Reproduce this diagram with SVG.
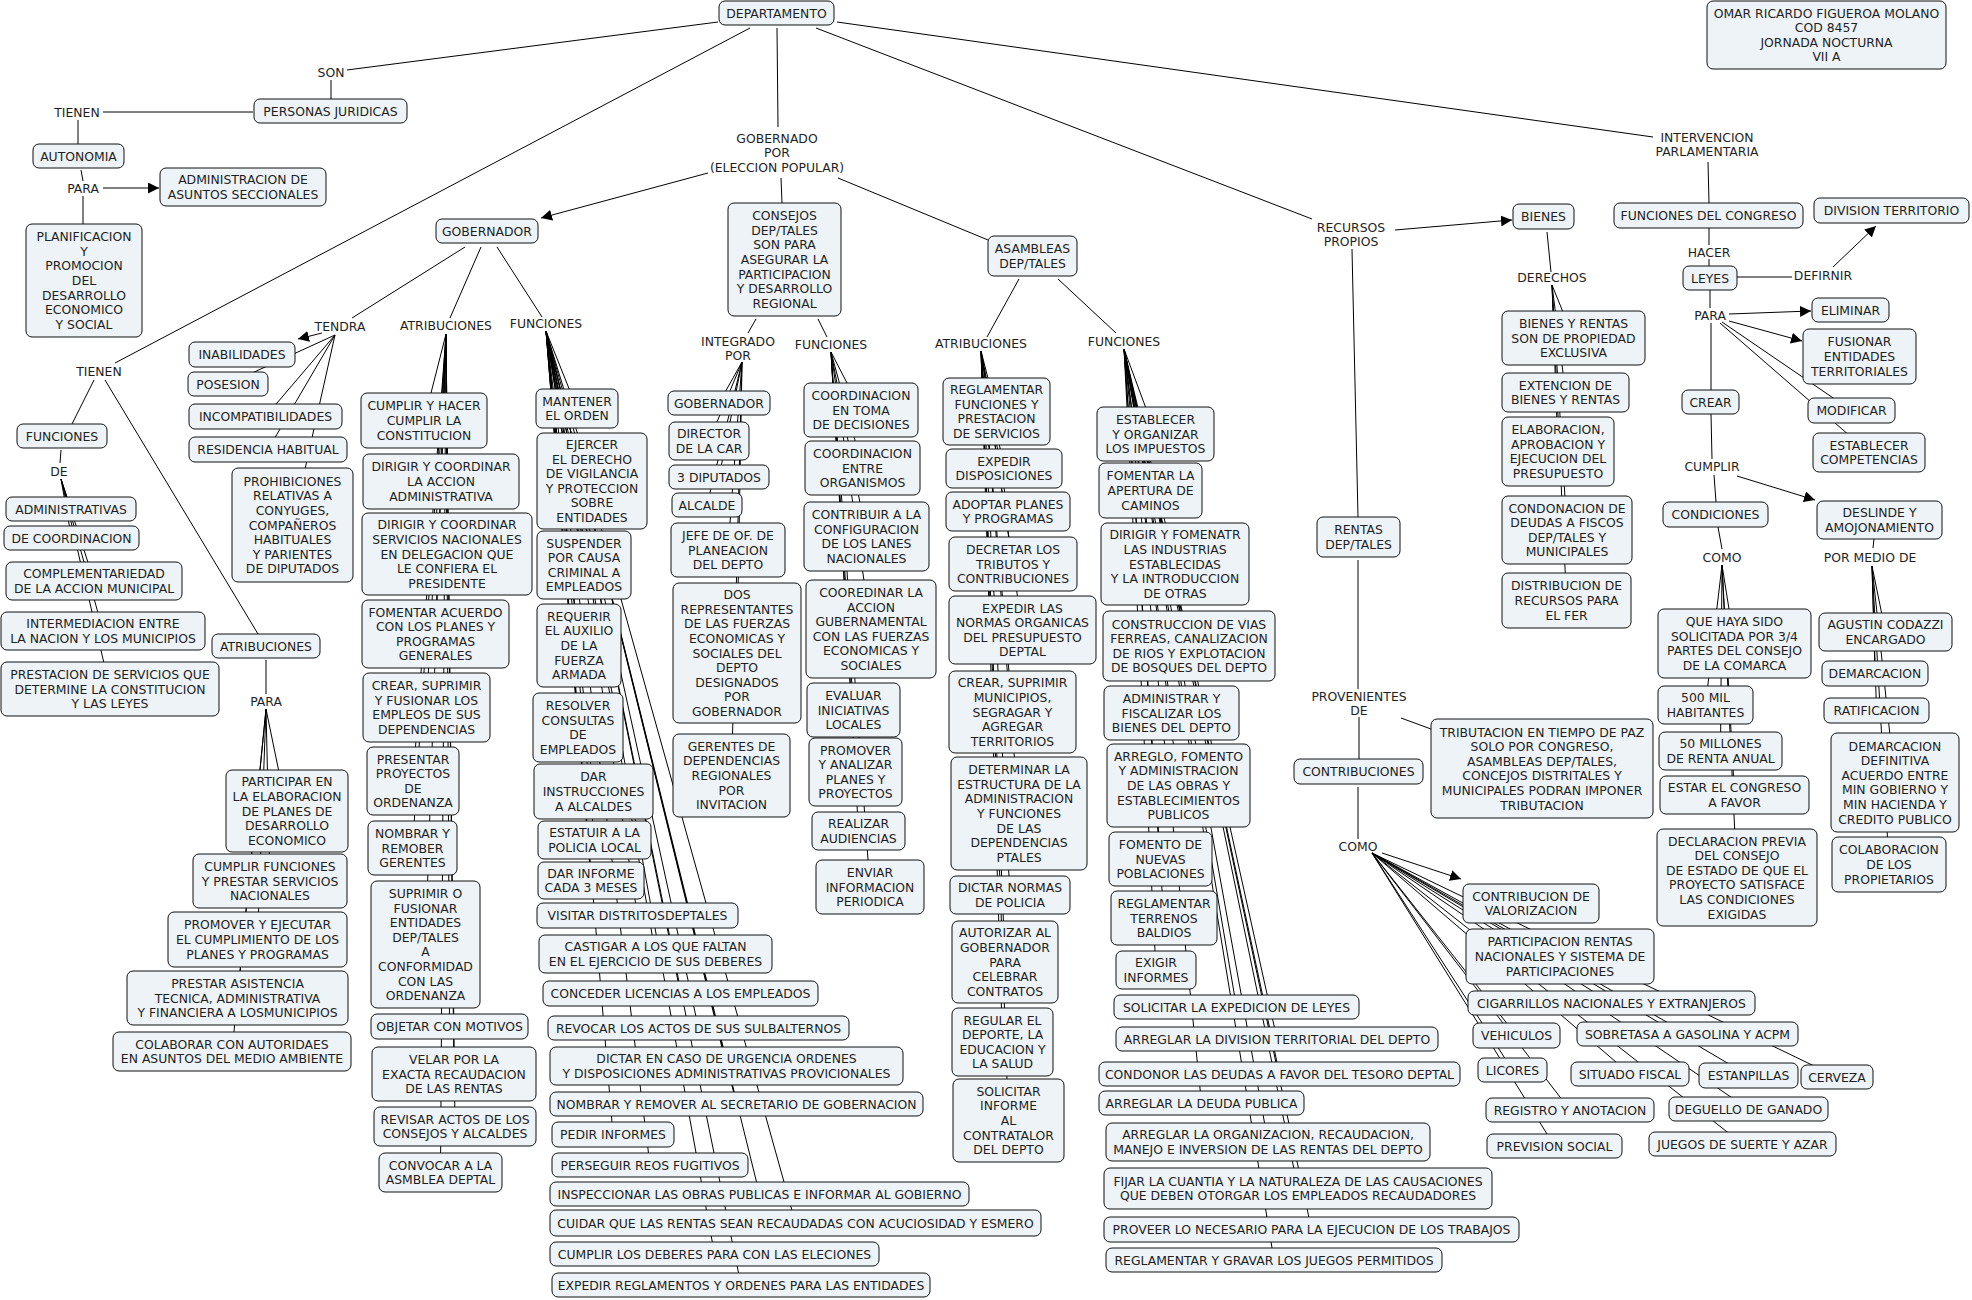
<svg xmlns="http://www.w3.org/2000/svg" width="1972" height="1300" viewBox="0 0 1972 1300">
<defs>
<marker id="ah" markerWidth="11" markerHeight="11" refX="11" refY="5.5" orient="auto" markerUnits="userSpaceOnUse"><path d="M0,0 L11,5.5 L0,11 z" fill="#000"/></marker>
<style>
.n rect{fill:#edf3f6;stroke:#111;stroke-width:1}
text{font-family:'DejaVu Sans',Verdana,sans-serif;font-size:12.4px;fill:#1e1e1e;text-anchor:middle}
#connectors line{stroke:#000;stroke-width:1}
</style>
</defs>
<rect width="1972" height="1300" fill="#fff"/>
<g id="connectors">
<line x1="718" y1="22" x2="347" y2="70"/>
<line x1="331" y1="80" x2="331" y2="99"/>
<line x1="253" y1="112" x2="103" y2="112"/>
<line x1="78" y1="120" x2="78" y2="144"/>
<line x1="81" y1="170" x2="83" y2="181"/>
<line x1="103" y1="188" x2="159" y2="188" marker-end="url(#ah)"/>
<line x1="83" y1="196" x2="83" y2="224"/>
<line x1="750" y1="28" x2="115" y2="363"/>
<line x1="94" y1="380" x2="72" y2="424"/>
<line x1="105" y1="380" x2="258" y2="634"/>
<line x1="61" y1="450" x2="60" y2="463"/>
<line x1="61" y1="479" x2="71" y2="509"/>
<line x1="61" y1="479" x2="71.5" y2="538"/>
<line x1="61" y1="479" x2="94" y2="581"/>
<line x1="61" y1="479" x2="103" y2="631"/>
<line x1="61" y1="479" x2="110" y2="689"/>
<line x1="266" y1="660" x2="266" y2="694"/>
<line x1="266" y1="709" x2="287" y2="811"/>
<line x1="266" y1="709" x2="270" y2="881"/>
<line x1="266" y1="709" x2="257.5" y2="939.5"/>
<line x1="266" y1="709" x2="237.5" y2="998"/>
<line x1="266" y1="709" x2="232" y2="1051.5"/>
<line x1="777" y1="28" x2="778" y2="127"/>
<line x1="708" y1="173" x2="541" y2="218" marker-end="url(#ah)"/>
<line x1="781" y1="178" x2="782" y2="203"/>
<line x1="838" y1="178" x2="988" y2="240"/>
<line x1="816" y1="28" x2="1312" y2="219"/>
<line x1="837" y1="22" x2="1653" y2="137"/>
<line x1="465" y1="247" x2="352" y2="318"/>
<line x1="481" y1="247" x2="450" y2="318"/>
<line x1="497" y1="247" x2="542" y2="317"/>
<line x1="322" y1="333" x2="298" y2="339" marker-end="url(#ah)"/>
<line x1="335" y1="335" x2="228" y2="384"/>
<line x1="335" y1="335" x2="265.5" y2="416.5"/>
<line x1="335" y1="335" x2="268" y2="449.5"/>
<line x1="335" y1="335" x2="292.5" y2="525"/>
<line x1="446" y1="334" x2="424" y2="420.5"/>
<line x1="446" y1="334" x2="441" y2="481.5"/>
<line x1="446" y1="334" x2="447" y2="554"/>
<line x1="446" y1="334" x2="435.5" y2="634"/>
<line x1="446" y1="334" x2="426.5" y2="707.5"/>
<line x1="446" y1="334" x2="413" y2="781"/>
<line x1="446" y1="334" x2="412.5" y2="848"/>
<line x1="446" y1="334" x2="425.5" y2="944.5"/>
<line x1="446" y1="334" x2="449.5" y2="1026.5"/>
<line x1="446" y1="334" x2="454" y2="1074"/>
<line x1="446" y1="334" x2="455" y2="1126.5"/>
<line x1="446" y1="334" x2="440.5" y2="1172.5"/>
<line x1="546" y1="331" x2="577" y2="408.5"/>
<line x1="546" y1="331" x2="592" y2="481"/>
<line x1="546" y1="331" x2="584" y2="565"/>
<line x1="546" y1="331" x2="579" y2="645.5"/>
<line x1="546" y1="331" x2="578" y2="727.5"/>
<line x1="546" y1="331" x2="593.5" y2="791.5"/>
<line x1="546" y1="331" x2="594.5" y2="840"/>
<line x1="546" y1="331" x2="591" y2="880.5"/>
<line x1="546" y1="331" x2="637.5" y2="915.5"/>
<line x1="546" y1="331" x2="655.5" y2="954"/>
<line x1="546" y1="331" x2="680.5" y2="993.5"/>
<line x1="546" y1="331" x2="698.5" y2="1028"/>
<line x1="546" y1="331" x2="726.5" y2="1066"/>
<line x1="546" y1="331" x2="736.5" y2="1104"/>
<line x1="546" y1="331" x2="613" y2="1134.5"/>
<line x1="546" y1="331" x2="650" y2="1165"/>
<line x1="546" y1="331" x2="759.5" y2="1194"/>
<line x1="546" y1="331" x2="795.5" y2="1223"/>
<line x1="546" y1="331" x2="714.5" y2="1254"/>
<line x1="546" y1="331" x2="741" y2="1285"/>
<line x1="756" y1="319" x2="748" y2="333"/>
<line x1="818" y1="319" x2="827" y2="337"/>
<line x1="742" y1="362" x2="719" y2="403"/>
<line x1="742" y1="362" x2="709" y2="441"/>
<line x1="742" y1="362" x2="719" y2="477"/>
<line x1="742" y1="362" x2="707" y2="505"/>
<line x1="742" y1="362" x2="728" y2="550"/>
<line x1="742" y1="362" x2="737" y2="653"/>
<line x1="742" y1="362" x2="731.5" y2="775.5"/>
<line x1="831" y1="352" x2="861" y2="410"/>
<line x1="831" y1="352" x2="862.5" y2="468"/>
<line x1="831" y1="352" x2="866.5" y2="536.5"/>
<line x1="831" y1="352" x2="871" y2="629"/>
<line x1="831" y1="352" x2="853.5" y2="710"/>
<line x1="831" y1="352" x2="855.5" y2="772"/>
<line x1="831" y1="352" x2="858.5" y2="831"/>
<line x1="831" y1="352" x2="870" y2="887"/>
<line x1="1019" y1="279" x2="987" y2="337"/>
<line x1="1058" y1="279" x2="1116" y2="333"/>
<line x1="981" y1="351" x2="996.5" y2="411.5"/>
<line x1="981" y1="351" x2="1004" y2="468.5"/>
<line x1="981" y1="351" x2="1008" y2="511.5"/>
<line x1="981" y1="351" x2="1013" y2="564"/>
<line x1="981" y1="351" x2="1022.5" y2="630"/>
<line x1="981" y1="351" x2="1012.5" y2="712"/>
<line x1="981" y1="351" x2="1019" y2="813.5"/>
<line x1="981" y1="351" x2="1010" y2="895"/>
<line x1="981" y1="351" x2="1005" y2="962"/>
<line x1="981" y1="351" x2="1002.5" y2="1042"/>
<line x1="981" y1="351" x2="1008.5" y2="1120.5"/>
<line x1="1124" y1="349" x2="1155.5" y2="434"/>
<line x1="1124" y1="349" x2="1150.5" y2="490.5"/>
<line x1="1124" y1="349" x2="1175" y2="564"/>
<line x1="1124" y1="349" x2="1189" y2="646"/>
<line x1="1124" y1="349" x2="1171.5" y2="713"/>
<line x1="1124" y1="349" x2="1178.5" y2="785.5"/>
<line x1="1124" y1="349" x2="1160.5" y2="859"/>
<line x1="1124" y1="349" x2="1164" y2="918"/>
<line x1="1124" y1="349" x2="1156" y2="970"/>
<line x1="1124" y1="349" x2="1236.5" y2="1007"/>
<line x1="1124" y1="349" x2="1277" y2="1039"/>
<line x1="1124" y1="349" x2="1279.5" y2="1074"/>
<line x1="1124" y1="349" x2="1201.5" y2="1103"/>
<line x1="1124" y1="349" x2="1268" y2="1142"/>
<line x1="1124" y1="349" x2="1298" y2="1188.5"/>
<line x1="1124" y1="349" x2="1311.5" y2="1229.5"/>
<line x1="1124" y1="349" x2="1274" y2="1260"/>
<line x1="1395" y1="230" x2="1512" y2="220" marker-end="url(#ah)"/>
<line x1="1352" y1="249" x2="1358" y2="517"/>
<line x1="1547" y1="232" x2="1551" y2="272"/>
<line x1="1552" y1="285" x2="1573.5" y2="338"/>
<line x1="1552" y1="285" x2="1565.5" y2="392.5"/>
<line x1="1552" y1="285" x2="1558" y2="451.5"/>
<line x1="1552" y1="285" x2="1567" y2="530"/>
<line x1="1552" y1="285" x2="1566.5" y2="600.5"/>
<line x1="1358" y1="560" x2="1358" y2="689"/>
<line x1="1359" y1="717" x2="1359" y2="759"/>
<line x1="1401" y1="718" x2="1431" y2="729"/>
<line x1="1358" y1="787" x2="1358" y2="839"/>
<line x1="1382" y1="853" x2="1461" y2="879" marker-end="url(#ah)"/>
<line x1="1372" y1="853" x2="1560" y2="956.5"/>
<line x1="1372" y1="853" x2="1611.5" y2="1003"/>
<line x1="1372" y1="853" x2="1516.5" y2="1035.5"/>
<line x1="1372" y1="853" x2="1687.5" y2="1034"/>
<line x1="1372" y1="853" x2="1512.5" y2="1070"/>
<line x1="1372" y1="853" x2="1630" y2="1074"/>
<line x1="1372" y1="853" x2="1748.5" y2="1075.5"/>
<line x1="1372" y1="853" x2="1837" y2="1077"/>
<line x1="1372" y1="853" x2="1570" y2="1110"/>
<line x1="1372" y1="853" x2="1748.5" y2="1109"/>
<line x1="1372" y1="853" x2="1554.5" y2="1146"/>
<line x1="1372" y1="853" x2="1742.5" y2="1144"/>
<line x1="1708" y1="162" x2="1709" y2="203"/>
<line x1="1709" y1="228" x2="1709" y2="245"/>
<line x1="1709" y1="259" x2="1709" y2="266"/>
<line x1="1737" y1="277" x2="1792" y2="277"/>
<line x1="1833" y1="267" x2="1876" y2="226" marker-end="url(#ah)"/>
<line x1="1710" y1="290" x2="1710" y2="308"/>
<line x1="1729" y1="314" x2="1811" y2="311" marker-end="url(#ah)"/>
<line x1="1729" y1="321" x2="1802" y2="341" marker-end="url(#ah)"/>
<line x1="1722" y1="322" x2="1851.5" y2="410.5"/>
<line x1="1720" y1="323" x2="1869" y2="452.5"/>
<line x1="1711" y1="323" x2="1711" y2="390"/>
<line x1="1711" y1="414" x2="1712" y2="459"/>
<line x1="1737" y1="476" x2="1815" y2="500" marker-end="url(#ah)"/>
<line x1="1714" y1="475" x2="1716" y2="502"/>
<line x1="1718" y1="527" x2="1722" y2="549"/>
<line x1="1722" y1="565" x2="1734.5" y2="643.5"/>
<line x1="1722" y1="565" x2="1705.5" y2="705"/>
<line x1="1722" y1="565" x2="1720.5" y2="751"/>
<line x1="1722" y1="565" x2="1734.5" y2="795"/>
<line x1="1722" y1="565" x2="1737" y2="877.5"/>
<line x1="1874" y1="539" x2="1873" y2="548"/>
<line x1="1872" y1="566" x2="1885.5" y2="632"/>
<line x1="1872" y1="566" x2="1875" y2="673.5"/>
<line x1="1872" y1="566" x2="1876.5" y2="710.5"/>
<line x1="1872" y1="566" x2="1895" y2="782.5"/>
<line x1="1872" y1="566" x2="1889" y2="864.5"/>
</g>
<g id="lp-son"><text x="331" y="76.5">SON</text></g>
<g id="lp-tienen1"><text x="77" y="116.5">TIENEN</text></g>
<g id="lp-para1"><text x="83" y="192.5">PARA</text></g>
<g id="lp-tienen2"><text x="99" y="375.5">TIENEN</text></g>
<g id="lp-de"><text x="59" y="475.5">DE</text></g>
<g id="lp-para2"><text x="266" y="705.5">PARA</text></g>
<g id="lp-tendra"><text x="340" y="330.5">TENDRA</text></g>
<g id="lp-atrib-gob"><text x="446" y="329.5">ATRIBUCIONES</text></g>
<g id="lp-func-gob"><text x="546" y="327.5">FUNCIONES</text></g>
<g id="lp-gobernado"><text x="777" y="142.5"><tspan x="777">GOBERNADO</tspan><tspan x="777" dy="14.7">POR</tspan><tspan x="777" dy="14.7">(ELECCION POPULAR)</tspan></text></g>
<g id="lp-integrado"><text x="738" y="345.5"><tspan x="738">INTEGRADO</tspan><tspan x="738" dy="14.6">POR</tspan></text></g>
<g id="lp-func-consejos"><text x="831" y="348.5">FUNCIONES</text></g>
<g id="lp-atrib-asamb"><text x="981" y="347.5">ATRIBUCIONES</text></g>
<g id="lp-func-asamb"><text x="1124" y="345.5">FUNCIONES</text></g>
<g id="lp-recursos"><text x="1351" y="231.5"><tspan x="1351">RECURSOS</tspan><tspan x="1351" dy="14.6">PROPIOS</tspan></text></g>
<g id="lp-intervencion"><text x="1707" y="141.5"><tspan x="1707">INTERVENCION</tspan><tspan x="1707" dy="14.6">PARLAMENTARIA</tspan></text></g>
<g id="lp-derechos"><text x="1552" y="281.5">DERECHOS</text></g>
<g id="lp-hacer"><text x="1709" y="256.5">HACER</text></g>
<g id="lp-defirnir"><text x="1823" y="279.5">DEFIRNIR</text></g>
<g id="lp-para3"><text x="1710" y="319.5">PARA</text></g>
<g id="lp-cumplir"><text x="1712" y="470.5">CUMPLIR</text></g>
<g id="lp-como1"><text x="1722" y="561.5">COMO</text></g>
<g id="lp-pormedio"><text x="1870" y="561.5">POR MEDIO DE</text></g>
<g id="lp-provenientes"><text x="1359" y="700.5"><tspan x="1359">PROVENIENTES</tspan><tspan x="1359" dy="14.6">DE</tspan></text></g>
<g id="lp-como2"><text x="1358" y="850.5">COMO</text></g>

<g id="n1" class="n"><rect x="719" y="1" width="115" height="24" rx="6"/><text x="776.5" y="17.5">DEPARTAMENTO</text></g>
<g id="n2" class="n"><rect x="1707" y="1" width="239" height="68" rx="6"/><text x="1826.5" y="17.6"><tspan x="1826.5">OMAR RICARDO FIGUEROA MOLANO</tspan><tspan x="1826.5" dy="14.6">COD 8457</tspan><tspan x="1826.5" dy="14.6">JORNADA NOCTURNA</tspan><tspan x="1826.5" dy="14.6">VII A</tspan></text></g>
<g id="n3" class="n"><rect x="254" y="99" width="153" height="24" rx="6"/><text x="330.5" y="115.5">PERSONAS JURIDICAS</text></g>
<g id="n4" class="n"><rect x="33" y="144" width="91" height="24" rx="6"/><text x="78.5" y="160.5">AUTONOMIA</text></g>
<g id="n5" class="n"><rect x="160" y="168" width="166" height="38" rx="6"/><text x="243" y="184.2"><tspan x="243">ADMINISTRACION DE</tspan><tspan x="243" dy="14.6">ASUNTOS SECCIONALES</tspan></text></g>
<g id="n6" class="n"><rect x="26" y="224" width="116" height="113" rx="6"/><text x="84" y="241.2"><tspan x="84">PLANIFICACION</tspan><tspan x="84" dy="14.6">Y</tspan><tspan x="84" dy="14.6">PROMOCION</tspan><tspan x="84" dy="14.6">DEL</tspan><tspan x="84" dy="14.6">DESARROLLO</tspan><tspan x="84" dy="14.6">ECONOMICO</tspan><tspan x="84" dy="14.6">Y SOCIAL</tspan></text></g>
<g id="n7" class="n"><rect x="436" y="219" width="102" height="24" rx="6"/><text x="487" y="235.5">GOBERNADOR</text></g>
<g id="n8" class="n"><rect x="728" y="203" width="113" height="113" rx="6"/><text x="784.5" y="220.2"><tspan x="784.5">CONSEJOS</tspan><tspan x="784.5" dy="14.6">DEP/TALES</tspan><tspan x="784.5" dy="14.6">SON PARA</tspan><tspan x="784.5" dy="14.6">ASEGURAR LA</tspan><tspan x="784.5" dy="14.6">PARTICIPACION</tspan><tspan x="784.5" dy="14.6">Y DESARROLLO</tspan><tspan x="784.5" dy="14.6">REGIONAL</tspan></text></g>
<g id="n9" class="n"><rect x="988" y="236" width="89" height="40" rx="6"/><text x="1032.5" y="253.2"><tspan x="1032.5">ASAMBLEAS</tspan><tspan x="1032.5" dy="14.6">DEP/TALES</tspan></text></g>
<g id="n10" class="n"><rect x="1513" y="204" width="61" height="25" rx="6"/><text x="1543.5" y="221">BIENES</text></g>
<g id="n11" class="n"><rect x="1614" y="203" width="189" height="25" rx="6"/><text x="1708.5" y="220">FUNCIONES DEL CONGRESO</text></g>
<g id="n12" class="n"><rect x="1814" y="198" width="155" height="25" rx="6"/><text x="1891.5" y="215">DIVISION TERRITORIO</text></g>
<g id="n13" class="n"><rect x="1683" y="266" width="54" height="24" rx="6"/><text x="1710" y="282.5">LEYES</text></g>
<g id="n14" class="n"><rect x="1812" y="298" width="77" height="24" rx="6"/><text x="1850.5" y="314.5">ELIMINAR</text></g>
<g id="n15" class="n"><rect x="1803" y="329" width="113" height="55" rx="6"/><text x="1859.5" y="346.4"><tspan x="1859.5">FUSIONAR</tspan><tspan x="1859.5" dy="14.6">ENTIDADES</tspan><tspan x="1859.5" dy="14.6">TERRITORIALES</tspan></text></g>
<g id="n16" class="n"><rect x="1808" y="398" width="87" height="25" rx="6"/><text x="1851.5" y="415">MODIFICAR</text></g>
<g id="n17" class="n"><rect x="1682" y="390" width="57" height="24" rx="6"/><text x="1710.5" y="406.5">CREAR</text></g>
<g id="n18" class="n"><rect x="1813" y="433" width="112" height="39" rx="6"/><text x="1869" y="449.7"><tspan x="1869">ESTABLECER</tspan><tspan x="1869" dy="14.6">COMPETENCIAS</tspan></text></g>
<g id="n19" class="n"><rect x="1663" y="502" width="105" height="25" rx="6"/><text x="1715.5" y="519">CONDICIONES</text></g>
<g id="n20" class="n"><rect x="1817" y="501" width="125" height="38" rx="6"/><text x="1879.5" y="517.2"><tspan x="1879.5">DESLINDE Y</tspan><tspan x="1879.5" dy="14.6">AMOJONAMIENTO</tspan></text></g>
<g id="n21" class="n"><rect x="1658" y="609" width="153" height="69" rx="6"/><text x="1734.5" y="626.1"><tspan x="1734.5">QUE HAYA SIDO</tspan><tspan x="1734.5" dy="14.6">SOLICITADA POR 3/4</tspan><tspan x="1734.5" dy="14.6">PARTES DEL CONSEJO</tspan><tspan x="1734.5" dy="14.6">DE LA COMARCA</tspan></text></g>
<g id="n22" class="n"><rect x="1658" y="686" width="95" height="38" rx="6"/><text x="1705.5" y="702.2"><tspan x="1705.5">500 MIL</tspan><tspan x="1705.5" dy="14.6">HABITANTES</tspan></text></g>
<g id="n23" class="n"><rect x="1659" y="732" width="123" height="38" rx="6"/><text x="1720.5" y="748.2"><tspan x="1720.5">50 MILLONES</tspan><tspan x="1720.5" dy="14.6">DE RENTA ANUAL</tspan></text></g>
<g id="n24" class="n"><rect x="1660" y="776" width="149" height="38" rx="6"/><text x="1734.5" y="792.2"><tspan x="1734.5">ESTAR EL CONGRESO</tspan><tspan x="1734.5" dy="14.6">A FAVOR</tspan></text></g>
<g id="n25" class="n"><rect x="1657" y="829" width="160" height="97" rx="6"/><text x="1737" y="845.5"><tspan x="1737">DECLARACION PREVIA</tspan><tspan x="1737" dy="14.6">DEL CONSEJO</tspan><tspan x="1737" dy="14.6">DE ESTADO DE QUE EL</tspan><tspan x="1737" dy="14.6">PROYECTO SATISFACE</tspan><tspan x="1737" dy="14.6">LAS CONDICIONES</tspan><tspan x="1737" dy="14.6">EXIGIDAS</tspan></text></g>
<g id="n26" class="n"><rect x="1819" y="613" width="133" height="38" rx="6"/><text x="1885.5" y="629.2"><tspan x="1885.5">AGUSTIN CODAZZI</tspan><tspan x="1885.5" dy="14.6">ENCARGADO</tspan></text></g>
<g id="n27" class="n"><rect x="1822" y="661" width="106" height="25" rx="6"/><text x="1875" y="678">DEMARCACION</text></g>
<g id="n28" class="n"><rect x="1824" y="698" width="105" height="25" rx="6"/><text x="1876.5" y="715">RATIFICACION</text></g>
<g id="n29" class="n"><rect x="1831" y="733" width="128" height="99" rx="6"/><text x="1895" y="750.5"><tspan x="1895">DEMARCACION</tspan><tspan x="1895" dy="14.6">DEFINITIVA</tspan><tspan x="1895" dy="14.6">ACUERDO ENTRE</tspan><tspan x="1895" dy="14.6">MIN GOBIERNO Y</tspan><tspan x="1895" dy="14.6">MIN HACIENDA Y</tspan><tspan x="1895" dy="14.6">CREDITO PUBLICO</tspan></text></g>
<g id="n30" class="n"><rect x="1832" y="837" width="114" height="55" rx="6"/><text x="1889" y="854.4"><tspan x="1889">COLABORACION</tspan><tspan x="1889" dy="14.6">DE LOS</tspan><tspan x="1889" dy="14.6">PROPIETARIOS</tspan></text></g>
<g id="n31" class="n"><rect x="1502" y="311" width="143" height="54" rx="6"/><text x="1573.5" y="327.9"><tspan x="1573.5">BIENES Y RENTAS</tspan><tspan x="1573.5" dy="14.6">SON DE PROPIEDAD</tspan><tspan x="1573.5" dy="14.6">EXCLUSIVA</tspan></text></g>
<g id="n32" class="n"><rect x="1502" y="373" width="127" height="39" rx="6"/><text x="1565.5" y="389.7"><tspan x="1565.5">EXTENCION DE</tspan><tspan x="1565.5" dy="14.6">BIENES Y RENTAS</tspan></text></g>
<g id="n33" class="n"><rect x="1502" y="417" width="112" height="69" rx="6"/><text x="1558" y="434.1"><tspan x="1558">ELABORACION,</tspan><tspan x="1558" dy="14.6">APROBACION Y</tspan><tspan x="1558" dy="14.6">EJECUCION DEL</tspan><tspan x="1558" dy="14.6">PRESUPUESTO</tspan></text></g>
<g id="n34" class="n"><rect x="1502" y="496" width="130" height="68" rx="6"/><text x="1567" y="512.6"><tspan x="1567">CONDONACION DE</tspan><tspan x="1567" dy="14.6">DEUDAS A FISCOS</tspan><tspan x="1567" dy="14.6">DEP/TALES Y</tspan><tspan x="1567" dy="14.6">MUNICIPALES</tspan></text></g>
<g id="n35" class="n"><rect x="1502" y="573" width="129" height="55" rx="6"/><text x="1566.5" y="590.4"><tspan x="1566.5">DISTRIBUCION DE</tspan><tspan x="1566.5" dy="14.6">RECURSOS PARA</tspan><tspan x="1566.5" dy="14.6">EL FER</tspan></text></g>
<g id="n36" class="n"><rect x="1317" y="517" width="83" height="40" rx="6"/><text x="1358.5" y="534.2"><tspan x="1358.5">RENTAS</tspan><tspan x="1358.5" dy="14.6">DEP/TALES</tspan></text></g>
<g id="n37" class="n"><rect x="1294" y="759" width="129" height="25" rx="6"/><text x="1358.5" y="776">CONTRIBUCIONES</text></g>
<g id="n38" class="n"><rect x="1431" y="719" width="222" height="99" rx="6"/><text x="1542" y="736.5"><tspan x="1542">TRIBUTACION EN TIEMPO DE PAZ</tspan><tspan x="1542" dy="14.6">SOLO POR CONGRESO,</tspan><tspan x="1542" dy="14.6">ASAMBLEAS DEP/TALES,</tspan><tspan x="1542" dy="14.6">CONCEJOS DISTRITALES Y</tspan><tspan x="1542" dy="14.6">MUNICIPALES PODRAN IMPONER</tspan><tspan x="1542" dy="14.6">TRIBUTACION</tspan></text></g>
<g id="n39" class="n"><rect x="1463" y="884" width="136" height="39" rx="6"/><text x="1531" y="900.7"><tspan x="1531">CONTRIBUCION DE</tspan><tspan x="1531" dy="14.6">VALORIZACION</tspan></text></g>
<g id="n40" class="n"><rect x="1466" y="929" width="188" height="55" rx="6"/><text x="1560" y="946.4"><tspan x="1560">PARTICIPACION RENTAS</tspan><tspan x="1560" dy="14.6">NACIONALES Y SISTEMA DE</tspan><tspan x="1560" dy="14.6">PARTICIPACIONES</tspan></text></g>
<g id="n41" class="n"><rect x="1468" y="991" width="287" height="24" rx="6"/><text x="1611.5" y="1007.5">CIGARRILLOS NACIONALES Y EXTRANJEROS</text></g>
<g id="n42" class="n"><rect x="1473" y="1023" width="87" height="25" rx="6"/><text x="1516.5" y="1040">VEHICULOS</text></g>
<g id="n43" class="n"><rect x="1577" y="1022" width="221" height="24" rx="6"/><text x="1687.5" y="1038.5">SOBRETASA A GASOLINA Y ACPM</text></g>
<g id="n44" class="n"><rect x="1478" y="1058" width="69" height="24" rx="6"/><text x="1512.5" y="1074.5">LICORES</text></g>
<g id="n45" class="n"><rect x="1571" y="1062" width="118" height="24" rx="6"/><text x="1630" y="1078.5">SITUADO FISCAL</text></g>
<g id="n46" class="n"><rect x="1699" y="1063" width="99" height="25" rx="6"/><text x="1748.5" y="1080">ESTANPILLAS</text></g>
<g id="n47" class="n"><rect x="1801" y="1065" width="72" height="24" rx="6"/><text x="1837" y="1081.5">CERVEZA</text></g>
<g id="n48" class="n"><rect x="1486" y="1098" width="168" height="24" rx="6"/><text x="1570" y="1114.5">REGISTRO Y ANOTACION</text></g>
<g id="n49" class="n"><rect x="1669" y="1097" width="159" height="24" rx="6"/><text x="1748.5" y="1113.5">DEGUELLO DE GANADO</text></g>
<g id="n50" class="n"><rect x="1487" y="1134" width="135" height="24" rx="6"/><text x="1554.5" y="1150.5">PREVISION SOCIAL</text></g>
<g id="n51" class="n"><rect x="1649" y="1132" width="187" height="24" rx="6"/><text x="1742.5" y="1148.5">JUEGOS DE SUERTE Y AZAR</text></g>
<g id="n52" class="n"><rect x="17" y="424" width="90" height="24" rx="6"/><text x="62" y="440.5">FUNCIONES</text></g>
<g id="n53" class="n"><rect x="6" y="497" width="130" height="24" rx="6"/><text x="71" y="513.5">ADMINISTRATIVAS</text></g>
<g id="n54" class="n"><rect x="4" y="526" width="135" height="24" rx="6"/><text x="71.5" y="542.5">DE COORDINACION</text></g>
<g id="n55" class="n"><rect x="6" y="562" width="176" height="38" rx="6"/><text x="94" y="578.2"><tspan x="94">COMPLEMENTARIEDAD</tspan><tspan x="94" dy="14.6">DE LA ACCION MUNICIPAL</tspan></text></g>
<g id="n56" class="n"><rect x="1" y="612" width="204" height="38" rx="6"/><text x="103" y="628.2"><tspan x="103">INTERMEDIACION ENTRE</tspan><tspan x="103" dy="14.6">LA NACION Y LOS MUNICIPIOS</tspan></text></g>
<g id="n57" class="n"><rect x="1" y="662" width="218" height="54" rx="6"/><text x="110" y="678.9"><tspan x="110">PRESTACION DE SERVICIOS QUE</tspan><tspan x="110" dy="14.6">DETERMINE LA CONSTITUCION</tspan><tspan x="110" dy="14.6">Y LAS LEYES</tspan></text></g>
<g id="n58" class="n"><rect x="212" y="634" width="108" height="24" rx="6"/><text x="266" y="650.5">ATRIBUCIONES</text></g>
<g id="n59" class="n"><rect x="226" y="770" width="122" height="82" rx="6"/><text x="287" y="786.3"><tspan x="287">PARTICIPAR EN</tspan><tspan x="287" dy="14.6">LA ELABORACION</tspan><tspan x="287" dy="14.6">DE PLANES DE</tspan><tspan x="287" dy="14.6">DESARROLLO</tspan><tspan x="287" dy="14.6">ECONOMICO</tspan></text></g>
<g id="n60" class="n"><rect x="193" y="854" width="154" height="54" rx="6"/><text x="270" y="870.9"><tspan x="270">CUMPLIR FUNCIONES</tspan><tspan x="270" dy="14.6">Y PRESTAR SERVICIOS</tspan><tspan x="270" dy="14.6">NACIONALES</tspan></text></g>
<g id="n61" class="n"><rect x="168" y="912" width="179" height="55" rx="6"/><text x="257.5" y="929.4"><tspan x="257.5">PROMOVER Y EJECUTAR</tspan><tspan x="257.5" dy="14.6">EL CUMPLIMIENTO DE LOS</tspan><tspan x="257.5" dy="14.6">PLANES Y PROGRAMAS</tspan></text></g>
<g id="n62" class="n"><rect x="127" y="971" width="221" height="54" rx="6"/><text x="237.5" y="987.9"><tspan x="237.5">PRESTAR ASISTENCIA</tspan><tspan x="237.5" dy="14.6">TECNICA, ADMINISTRATIVA</tspan><tspan x="237.5" dy="14.6">Y FINANCIERA A LOSMUNICIPIOS</tspan></text></g>
<g id="n63" class="n"><rect x="113" y="1032" width="238" height="39" rx="6"/><text x="232" y="1048.7"><tspan x="232">COLABORAR CON AUTORIDAES</tspan><tspan x="232" dy="14.6">EN ASUNTOS DEL MEDIO AMBIENTE</tspan></text></g>
<g id="n64" class="n"><rect x="189" y="342" width="106" height="25" rx="6"/><text x="242" y="359">INABILIDADES</text></g>
<g id="n65" class="n"><rect x="188" y="372" width="80" height="24" rx="6"/><text x="228" y="388.5">POSESION</text></g>
<g id="n66" class="n"><rect x="189" y="404" width="153" height="25" rx="6"/><text x="265.5" y="421">INCOMPATIBILIDADES</text></g>
<g id="n67" class="n"><rect x="189" y="437" width="158" height="25" rx="6"/><text x="268" y="454">RESIDENCIA HABITUAL</text></g>
<g id="n68" class="n"><rect x="232" y="468" width="121" height="114" rx="6"/><text x="292.5" y="485.7"><tspan x="292.5">PROHIBICIONES</tspan><tspan x="292.5" dy="14.6">RELATIVAS A</tspan><tspan x="292.5" dy="14.6">CONYUGES,</tspan><tspan x="292.5" dy="14.6">COMPAÑEROS</tspan><tspan x="292.5" dy="14.6">HABITUALES</tspan><tspan x="292.5" dy="14.6">Y PARIENTES</tspan><tspan x="292.5" dy="14.6">DE DIPUTADOS</tspan></text></g>
<g id="n69" class="n"><rect x="361" y="393" width="126" height="55" rx="6"/><text x="424" y="410.4"><tspan x="424">CUMPLIR Y HACER</tspan><tspan x="424" dy="14.6">CUMPLIR LA</tspan><tspan x="424" dy="14.6">CONSTITUCION</tspan></text></g>
<g id="n70" class="n"><rect x="363" y="454" width="156" height="55" rx="6"/><text x="441" y="471.4"><tspan x="441">DIRIGIR Y COORDINAR</tspan><tspan x="441" dy="14.6">LA ACCION</tspan><tspan x="441" dy="14.6">ADMINISTRATIVA</tspan></text></g>
<g id="n71" class="n"><rect x="362" y="513" width="170" height="82" rx="6"/><text x="447" y="529.3"><tspan x="447">DIRIGIR Y COORDINAR</tspan><tspan x="447" dy="14.6">SERVICIOS NACIONALES</tspan><tspan x="447" dy="14.6">EN DELEGACION QUE</tspan><tspan x="447" dy="14.6">LE CONFIERA EL</tspan><tspan x="447" dy="14.6">PRESIDENTE</tspan></text></g>
<g id="n72" class="n"><rect x="362" y="600" width="147" height="68" rx="6"/><text x="435.5" y="616.6"><tspan x="435.5">FOMENTAR ACUERDO</tspan><tspan x="435.5" dy="14.6">CON LOS PLANES Y</tspan><tspan x="435.5" dy="14.6">PROGRAMAS</tspan><tspan x="435.5" dy="14.6">GENERALES</tspan></text></g>
<g id="n73" class="n"><rect x="363" y="673" width="127" height="69" rx="6"/><text x="426.5" y="690.1"><tspan x="426.5">CREAR, SUPRIMIR</tspan><tspan x="426.5" dy="14.6">Y FUSIONAR LOS</tspan><tspan x="426.5" dy="14.6">EMPLEOS DE SUS</tspan><tspan x="426.5" dy="14.6">DEPENDENCIAS</tspan></text></g>
<g id="n74" class="n"><rect x="367" y="747" width="92" height="68" rx="6"/><text x="413" y="763.6"><tspan x="413">PRESENTAR</tspan><tspan x="413" dy="14.6">PROYECTOS</tspan><tspan x="413" dy="14.6">DE</tspan><tspan x="413" dy="14.6">ORDENANZA</tspan></text></g>
<g id="n75" class="n"><rect x="368" y="821" width="89" height="54" rx="6"/><text x="412.5" y="837.9"><tspan x="412.5">NOMBRAR Y</tspan><tspan x="412.5" dy="14.6">REMOBER</tspan><tspan x="412.5" dy="14.6">GERENTES</tspan></text></g>
<g id="n76" class="n"><rect x="371" y="881" width="109" height="127" rx="6"/><text x="425.5" y="897.9"><tspan x="425.5">SUPRIMIR O</tspan><tspan x="425.5" dy="14.6">FUSIONAR</tspan><tspan x="425.5" dy="14.6">ENTIDADES</tspan><tspan x="425.5" dy="14.6">DEP/TALES</tspan><tspan x="425.5" dy="14.6">A</tspan><tspan x="425.5" dy="14.6">CONFORMIDAD</tspan><tspan x="425.5" dy="14.6">CON LAS</tspan><tspan x="425.5" dy="14.6">ORDENANZA</tspan></text></g>
<g id="n77" class="n"><rect x="371" y="1014" width="157" height="25" rx="6"/><text x="449.5" y="1031">OBJETAR CON MOTIVOS</text></g>
<g id="n78" class="n"><rect x="372" y="1047" width="164" height="54" rx="6"/><text x="454" y="1063.9"><tspan x="454">VELAR POR LA</tspan><tspan x="454" dy="14.6">EXACTA RECAUDACION</tspan><tspan x="454" dy="14.6">DE LAS RENTAS</tspan></text></g>
<g id="n79" class="n"><rect x="374" y="1107" width="162" height="39" rx="6"/><text x="455" y="1123.7"><tspan x="455">REVISAR ACTOS DE LOS</tspan><tspan x="455" dy="14.6">CONSEJOS Y ALCALDES</tspan></text></g>
<g id="n80" class="n"><rect x="379" y="1153" width="123" height="39" rx="6"/><text x="440.5" y="1169.7"><tspan x="440.5">CONVOCAR A LA</tspan><tspan x="440.5" dy="14.6">ASMBLEA DEPTAL</tspan></text></g>
<g id="n81" class="n"><rect x="536" y="389" width="82" height="39" rx="6"/><text x="577" y="405.7"><tspan x="577">MANTENER</tspan><tspan x="577" dy="14.6">EL ORDEN</tspan></text></g>
<g id="n82" class="n"><rect x="537" y="433" width="110" height="96" rx="6"/><text x="592" y="449"><tspan x="592">EJERCER</tspan><tspan x="592" dy="14.6">EL DERECHO</tspan><tspan x="592" dy="14.6">DE VIGILANCIA</tspan><tspan x="592" dy="14.6">Y PROTECCION</tspan><tspan x="592" dy="14.6">SOBRE</tspan><tspan x="592" dy="14.6">ENTIDADES</tspan></text></g>
<g id="n83" class="n"><rect x="537" y="531" width="94" height="68" rx="6"/><text x="584" y="547.6"><tspan x="584">SUSPENDER</tspan><tspan x="584" dy="14.6">POR CAUSA</tspan><tspan x="584" dy="14.6">CRIMINAL A</tspan><tspan x="584" dy="14.6">EMPLEADOS</tspan></text></g>
<g id="n84" class="n"><rect x="537" y="604" width="84" height="83" rx="6"/><text x="579" y="620.8"><tspan x="579">REQUERIR</tspan><tspan x="579" dy="14.6">EL AUXILIO</tspan><tspan x="579" dy="14.6">DE LA</tspan><tspan x="579" dy="14.6">FUERZA</tspan><tspan x="579" dy="14.6">ARMADA</tspan></text></g>
<g id="n85" class="n"><rect x="533" y="693" width="90" height="69" rx="6"/><text x="578" y="710.1"><tspan x="578">RESOLVER</tspan><tspan x="578" dy="14.6">CONSULTAS</tspan><tspan x="578" dy="14.6">DE</tspan><tspan x="578" dy="14.6">EMPLEADOS</tspan></text></g>
<g id="n86" class="n"><rect x="534" y="764" width="119" height="55" rx="6"/><text x="593.5" y="781.4"><tspan x="593.5">DAR</tspan><tspan x="593.5" dy="14.6">INSTRUCCIONES</tspan><tspan x="593.5" dy="14.6">A ALCALDES</tspan></text></g>
<g id="n87" class="n"><rect x="538" y="821" width="113" height="38" rx="6"/><text x="594.5" y="837.2"><tspan x="594.5">ESTATUIR A LA</tspan><tspan x="594.5" dy="14.6">POLICIA LOCAL</tspan></text></g>
<g id="n88" class="n"><rect x="538" y="862" width="106" height="37" rx="6"/><text x="591" y="877.7"><tspan x="591">DAR INFORME</tspan><tspan x="591" dy="14.6">CADA 3 MESES</tspan></text></g>
<g id="n89" class="n"><rect x="537" y="903" width="201" height="25" rx="6"/><text x="637.5" y="920">VISITAR DISTRITOSDEPTALES</text></g>
<g id="n90" class="n"><rect x="539" y="935" width="233" height="38" rx="6"/><text x="655.5" y="951.2"><tspan x="655.5">CASTIGAR A LOS QUE FALTAN</tspan><tspan x="655.5" dy="14.6">EN EL EJERCICIO DE SUS DEBERES</tspan></text></g>
<g id="n91" class="n"><rect x="543" y="981" width="275" height="25" rx="6"/><text x="680.5" y="998">CONCEDER LICENCIAS A LOS EMPLEADOS</text></g>
<g id="n92" class="n"><rect x="548" y="1016" width="301" height="24" rx="6"/><text x="698.5" y="1032.5">REVOCAR LOS ACTOS DE SUS SULBALTERNOS</text></g>
<g id="n93" class="n"><rect x="550" y="1047" width="353" height="38" rx="6"/><text x="726.5" y="1063.2"><tspan x="726.5">DICTAR EN CASO DE URGENCIA ORDENES</tspan><tspan x="726.5" dy="14.6">Y DISPOSICIONES ADMINISTRATIVAS PROVICIONALES</tspan></text></g>
<g id="n94" class="n"><rect x="550" y="1092" width="373" height="24" rx="6"/><text x="736.5" y="1108.5">NOMBRAR Y REMOVER AL SECRETARIO DE GOBERNACION</text></g>
<g id="n95" class="n"><rect x="552" y="1122" width="122" height="25" rx="6"/><text x="613" y="1139">PEDIR INFORMES</text></g>
<g id="n96" class="n"><rect x="552" y="1153" width="196" height="24" rx="6"/><text x="650" y="1169.5">PERSEGUIR REOS FUGITIVOS</text></g>
<g id="n97" class="n"><rect x="550" y="1182" width="419" height="24" rx="6"/><text x="759.5" y="1198.5">INSPECCIONAR LAS OBRAS PUBLICAS E INFORMAR AL GOBIERNO</text></g>
<g id="n98" class="n"><rect x="550" y="1210" width="491" height="26" rx="6"/><text x="795.5" y="1227.5">CUIDAR QUE LAS RENTAS SEAN RECAUDADAS CON ACUCIOSIDAD Y ESMERO</text></g>
<g id="n99" class="n"><rect x="550" y="1242" width="329" height="24" rx="6"/><text x="714.5" y="1258.5">CUMPLIR LOS DEBERES PARA CON LAS ELECIONES</text></g>
<g id="n100" class="n"><rect x="552" y="1273" width="378" height="24" rx="6"/><text x="741" y="1289.5">EXPEDIR REGLAMENTOS Y ORDENES PARA LAS ENTIDADES</text></g>
<g id="n101" class="n"><rect x="668" y="391" width="102" height="24" rx="6"/><text x="719" y="407.5">GOBERNADOR</text></g>
<g id="n102" class="n"><rect x="669" y="422" width="80" height="38" rx="6"/><text x="709" y="438.2"><tspan x="709">DIRECTOR</tspan><tspan x="709" dy="14.6">DE LA CAR</tspan></text></g>
<g id="n103" class="n"><rect x="669" y="465" width="100" height="24" rx="6"/><text x="719" y="481.5">3 DIPUTADOS</text></g>
<g id="n104" class="n"><rect x="672" y="493" width="70" height="24" rx="6"/><text x="707" y="509.5">ALCALDE</text></g>
<g id="n105" class="n"><rect x="671" y="523" width="114" height="54" rx="6"/><text x="728" y="539.9"><tspan x="728">JEFE DE OF. DE</tspan><tspan x="728" dy="14.6">PLANEACION</tspan><tspan x="728" dy="14.6">DEL DEPTO</tspan></text></g>
<g id="n106" class="n"><rect x="673" y="583" width="128" height="140" rx="6"/><text x="737" y="599.1"><tspan x="737">DOS</tspan><tspan x="737" dy="14.6">REPRESENTANTES</tspan><tspan x="737" dy="14.6">DE LAS FUERZAS</tspan><tspan x="737" dy="14.6">ECONOMICAS Y</tspan><tspan x="737" dy="14.6">SOCIALES DEL</tspan><tspan x="737" dy="14.6">DEPTO</tspan><tspan x="737" dy="14.6">DESIGNADOS</tspan><tspan x="737" dy="14.6">POR</tspan><tspan x="737" dy="14.6">GOBERNADOR</tspan></text></g>
<g id="n107" class="n"><rect x="673" y="734" width="117" height="83" rx="6"/><text x="731.5" y="750.8"><tspan x="731.5">GERENTES DE</tspan><tspan x="731.5" dy="14.6">DEPENDENCIAS</tspan><tspan x="731.5" dy="14.6">REGIONALES</tspan><tspan x="731.5" dy="14.6">POR</tspan><tspan x="731.5" dy="14.6">INVITACION</tspan></text></g>
<g id="n108" class="n"><rect x="804" y="383" width="114" height="54" rx="6"/><text x="861" y="399.9"><tspan x="861">COORDINACION</tspan><tspan x="861" dy="14.6">EN TOMA</tspan><tspan x="861" dy="14.6">DE DECISIONES</tspan></text></g>
<g id="n109" class="n"><rect x="805" y="441" width="115" height="54" rx="6"/><text x="862.5" y="457.9"><tspan x="862.5">COORDINACION</tspan><tspan x="862.5" dy="14.6">ENTRE</tspan><tspan x="862.5" dy="14.6">ORGANISMOS</tspan></text></g>
<g id="n110" class="n"><rect x="804" y="502" width="125" height="69" rx="6"/><text x="866.5" y="519.1"><tspan x="866.5">CONTRIBUIR A LA</tspan><tspan x="866.5" dy="14.6">CONFIGURACION</tspan><tspan x="866.5" dy="14.6">DE LOS LANES</tspan><tspan x="866.5" dy="14.6">NACIONALES</tspan></text></g>
<g id="n111" class="n"><rect x="806" y="580" width="130" height="98" rx="6"/><text x="871" y="597"><tspan x="871">COOREDINAR LA</tspan><tspan x="871" dy="14.6">ACCION</tspan><tspan x="871" dy="14.6">GUBERNAMENTAL</tspan><tspan x="871" dy="14.6">CON LAS FUERZAS</tspan><tspan x="871" dy="14.6">ECONOMICAS Y</tspan><tspan x="871" dy="14.6">SOCIALES</tspan></text></g>
<g id="n112" class="n"><rect x="807" y="683" width="93" height="54" rx="6"/><text x="853.5" y="699.9"><tspan x="853.5">EVALUAR</tspan><tspan x="853.5" dy="14.6">INICIATIVAS</tspan><tspan x="853.5" dy="14.6">LOCALES</tspan></text></g>
<g id="n113" class="n"><rect x="809" y="738" width="93" height="68" rx="6"/><text x="855.5" y="754.6"><tspan x="855.5">PROMOVER</tspan><tspan x="855.5" dy="14.6">Y ANALIZAR</tspan><tspan x="855.5" dy="14.6">PLANES Y</tspan><tspan x="855.5" dy="14.6">PROYECTOS</tspan></text></g>
<g id="n114" class="n"><rect x="812" y="812" width="93" height="38" rx="6"/><text x="858.5" y="828.2"><tspan x="858.5">REALIZAR</tspan><tspan x="858.5" dy="14.6">AUDIENCIAS</tspan></text></g>
<g id="n115" class="n"><rect x="816" y="860" width="108" height="54" rx="6"/><text x="870" y="876.9"><tspan x="870">ENVIAR</tspan><tspan x="870" dy="14.6">INFORMACION</tspan><tspan x="870" dy="14.6">PERIODICA</tspan></text></g>
<g id="n116" class="n"><rect x="943" y="378" width="107" height="67" rx="6"/><text x="996.5" y="394.1"><tspan x="996.5">REGLAMENTAR</tspan><tspan x="996.5" dy="14.6">FUNCIONES Y</tspan><tspan x="996.5" dy="14.6">PRESTACION</tspan><tspan x="996.5" dy="14.6">DE SERVICIOS</tspan></text></g>
<g id="n117" class="n"><rect x="946" y="449" width="116" height="39" rx="6"/><text x="1004" y="465.7"><tspan x="1004">EXPEDIR</tspan><tspan x="1004" dy="14.6">DISPOSICIONES</tspan></text></g>
<g id="n118" class="n"><rect x="946" y="492" width="124" height="39" rx="6"/><text x="1008" y="508.7"><tspan x="1008">ADOPTAR PLANES</tspan><tspan x="1008" dy="14.6">Y PROGRAMAS</tspan></text></g>
<g id="n119" class="n"><rect x="949" y="537" width="128" height="54" rx="6"/><text x="1013" y="553.9"><tspan x="1013">DECRETAR LOS</tspan><tspan x="1013" dy="14.6">TRIBUTOS Y</tspan><tspan x="1013" dy="14.6">CONTRIBUCIONES</tspan></text></g>
<g id="n120" class="n"><rect x="949" y="596" width="147" height="68" rx="6"/><text x="1022.5" y="612.6"><tspan x="1022.5">EXPEDIR LAS</tspan><tspan x="1022.5" dy="14.6">NORMAS ORGANICAS</tspan><tspan x="1022.5" dy="14.6">DEL PRESUPUESTO</tspan><tspan x="1022.5" dy="14.6">DEPTAL</tspan></text></g>
<g id="n121" class="n"><rect x="949" y="671" width="127" height="82" rx="6"/><text x="1012.5" y="687.3"><tspan x="1012.5">CREAR, SUPRIMIR</tspan><tspan x="1012.5" dy="14.6">MUNICIPIOS,</tspan><tspan x="1012.5" dy="14.6">SEGRAGAR Y</tspan><tspan x="1012.5" dy="14.6">AGREGAR</tspan><tspan x="1012.5" dy="14.6">TERRITORIOS</tspan></text></g>
<g id="n122" class="n"><rect x="951" y="757" width="136" height="113" rx="6"/><text x="1019" y="774.2"><tspan x="1019">DETERMINAR LA</tspan><tspan x="1019" dy="14.6">ESTRUCTURA DE LA</tspan><tspan x="1019" dy="14.6">ADMINISTRACION</tspan><tspan x="1019" dy="14.6">Y FUNCIONES</tspan><tspan x="1019" dy="14.6">DE LAS</tspan><tspan x="1019" dy="14.6">DEPENDENCIAS</tspan><tspan x="1019" dy="14.6">PTALES</tspan></text></g>
<g id="n123" class="n"><rect x="950" y="876" width="120" height="38" rx="6"/><text x="1010" y="892.2"><tspan x="1010">DICTAR NORMAS</tspan><tspan x="1010" dy="14.6">DE POLICIA</tspan></text></g>
<g id="n124" class="n"><rect x="952" y="921" width="106" height="82" rx="6"/><text x="1005" y="937.3"><tspan x="1005">AUTORIZAR AL</tspan><tspan x="1005" dy="14.6">GOBERNADOR</tspan><tspan x="1005" dy="14.6">PARA</tspan><tspan x="1005" dy="14.6">CELEBRAR</tspan><tspan x="1005" dy="14.6">CONTRATOS</tspan></text></g>
<g id="n125" class="n"><rect x="952" y="1008" width="101" height="68" rx="6"/><text x="1002.5" y="1024.6"><tspan x="1002.5">REGULAR EL</tspan><tspan x="1002.5" dy="14.6">DEPORTE, LA</tspan><tspan x="1002.5" dy="14.6">EDUCACION Y</tspan><tspan x="1002.5" dy="14.6">LA SALUD</tspan></text></g>
<g id="n126" class="n"><rect x="953" y="1079" width="111" height="83" rx="6"/><text x="1008.5" y="1095.8"><tspan x="1008.5">SOLICITAR</tspan><tspan x="1008.5" dy="14.6">INFORME</tspan><tspan x="1008.5" dy="14.6">AL</tspan><tspan x="1008.5" dy="14.6">CONTRATALOR</tspan><tspan x="1008.5" dy="14.6">DEL DEPTO</tspan></text></g>
<g id="n127" class="n"><rect x="1097" y="407" width="117" height="54" rx="6"/><text x="1155.5" y="423.9"><tspan x="1155.5">ESTABLECER</tspan><tspan x="1155.5" dy="14.6">Y ORGANIZAR</tspan><tspan x="1155.5" dy="14.6">LOS IMPUESTOS</tspan></text></g>
<g id="n128" class="n"><rect x="1099" y="463" width="103" height="55" rx="6"/><text x="1150.5" y="480.4"><tspan x="1150.5">FOMENTAR LA</tspan><tspan x="1150.5" dy="14.6">APERTURA DE</tspan><tspan x="1150.5" dy="14.6">CAMINOS</tspan></text></g>
<g id="n129" class="n"><rect x="1101" y="523" width="148" height="82" rx="6"/><text x="1175" y="539.3"><tspan x="1175">DIRIGIR Y FOMENATR</tspan><tspan x="1175" dy="14.6">LAS INDUSTRIAS</tspan><tspan x="1175" dy="14.6">ESTABLECIDAS</tspan><tspan x="1175" dy="14.6">Y LA INTRODUCCION</tspan><tspan x="1175" dy="14.6">DE OTRAS</tspan></text></g>
<g id="n130" class="n"><rect x="1103" y="611" width="172" height="70" rx="6"/><text x="1189" y="628.6"><tspan x="1189">CONSTRUCCION DE VIAS</tspan><tspan x="1189" dy="14.6">FERREAS, CANALIZACION</tspan><tspan x="1189" dy="14.6">DE RIOS Y EXPLOTACION</tspan><tspan x="1189" dy="14.6">DE BOSQUES DEL DEPTO</tspan></text></g>
<g id="n131" class="n"><rect x="1104" y="686" width="135" height="54" rx="6"/><text x="1171.5" y="702.9"><tspan x="1171.5">ADMINISTRAR Y</tspan><tspan x="1171.5" dy="14.6">FISCALIZAR LOS</tspan><tspan x="1171.5" dy="14.6">BIENES DEL DEPTO</tspan></text></g>
<g id="n132" class="n"><rect x="1107" y="744" width="143" height="83" rx="6"/><text x="1178.5" y="760.8"><tspan x="1178.5">ARREGLO, FOMENTO</tspan><tspan x="1178.5" dy="14.6">Y ADMINISTRACION</tspan><tspan x="1178.5" dy="14.6">DE LAS OBRAS Y</tspan><tspan x="1178.5" dy="14.6">ESTABLECIMIENTOS</tspan><tspan x="1178.5" dy="14.6">PUBLICOS</tspan></text></g>
<g id="n133" class="n"><rect x="1109" y="832" width="103" height="54" rx="6"/><text x="1160.5" y="848.9"><tspan x="1160.5">FOMENTO DE</tspan><tspan x="1160.5" dy="14.6">NUEVAS</tspan><tspan x="1160.5" dy="14.6">POBLACIONES</tspan></text></g>
<g id="n134" class="n"><rect x="1111" y="891" width="106" height="54" rx="6"/><text x="1164" y="907.9"><tspan x="1164">REGLAMENTAR</tspan><tspan x="1164" dy="14.6">TERRENOS</tspan><tspan x="1164" dy="14.6">BALDIOS</tspan></text></g>
<g id="n135" class="n"><rect x="1116" y="951" width="80" height="38" rx="6"/><text x="1156" y="967.2"><tspan x="1156">EXIGIR</tspan><tspan x="1156" dy="14.6">INFORMES</tspan></text></g>
<g id="n136" class="n"><rect x="1114" y="995" width="245" height="24" rx="6"/><text x="1236.5" y="1011.5">SOLICITAR LA EXPEDICION DE LEYES</text></g>
<g id="n137" class="n"><rect x="1116" y="1027" width="322" height="24" rx="6"/><text x="1277" y="1043.5">ARREGLAR LA DIVISION TERRITORIAL DEL DEPTO</text></g>
<g id="n138" class="n"><rect x="1099" y="1062" width="361" height="24" rx="6"/><text x="1279.5" y="1078.5">CONDONOR LAS DEUDAS A FAVOR DEL TESORO DEPTAL</text></g>
<g id="n139" class="n"><rect x="1099" y="1091" width="205" height="24" rx="6"/><text x="1201.5" y="1107.5">ARREGLAR LA DEUDA PUBLICA</text></g>
<g id="n140" class="n"><rect x="1106" y="1123" width="324" height="38" rx="6"/><text x="1268" y="1139.2"><tspan x="1268">ARREGLAR LA ORGANIZACION, RECAUDACION,</tspan><tspan x="1268" dy="14.6">MANEJO E INVERSION DE LAS RENTAS DEL DEPTO</tspan></text></g>
<g id="n141" class="n"><rect x="1104" y="1168" width="388" height="41" rx="6"/><text x="1298" y="1185.7"><tspan x="1298">FIJAR LA CUANTIA Y LA NATURALEZA DE LAS CAUSACIONES</tspan><tspan x="1298" dy="14.6">QUE DEBEN OTORGAR LOS EMPLEADOS RECAUDADORES</tspan></text></g>
<g id="n142" class="n"><rect x="1104" y="1217" width="415" height="25" rx="6"/><text x="1311.5" y="1234">PROVEER LO NECESARIO PARA LA EJECUCION DE LOS TRABAJOS</text></g>
<g id="n143" class="n"><rect x="1106" y="1248" width="336" height="24" rx="6"/><text x="1274" y="1264.5">REGLAMENTAR Y GRAVAR LOS JUEGOS PERMITIDOS</text></g>
</svg>
